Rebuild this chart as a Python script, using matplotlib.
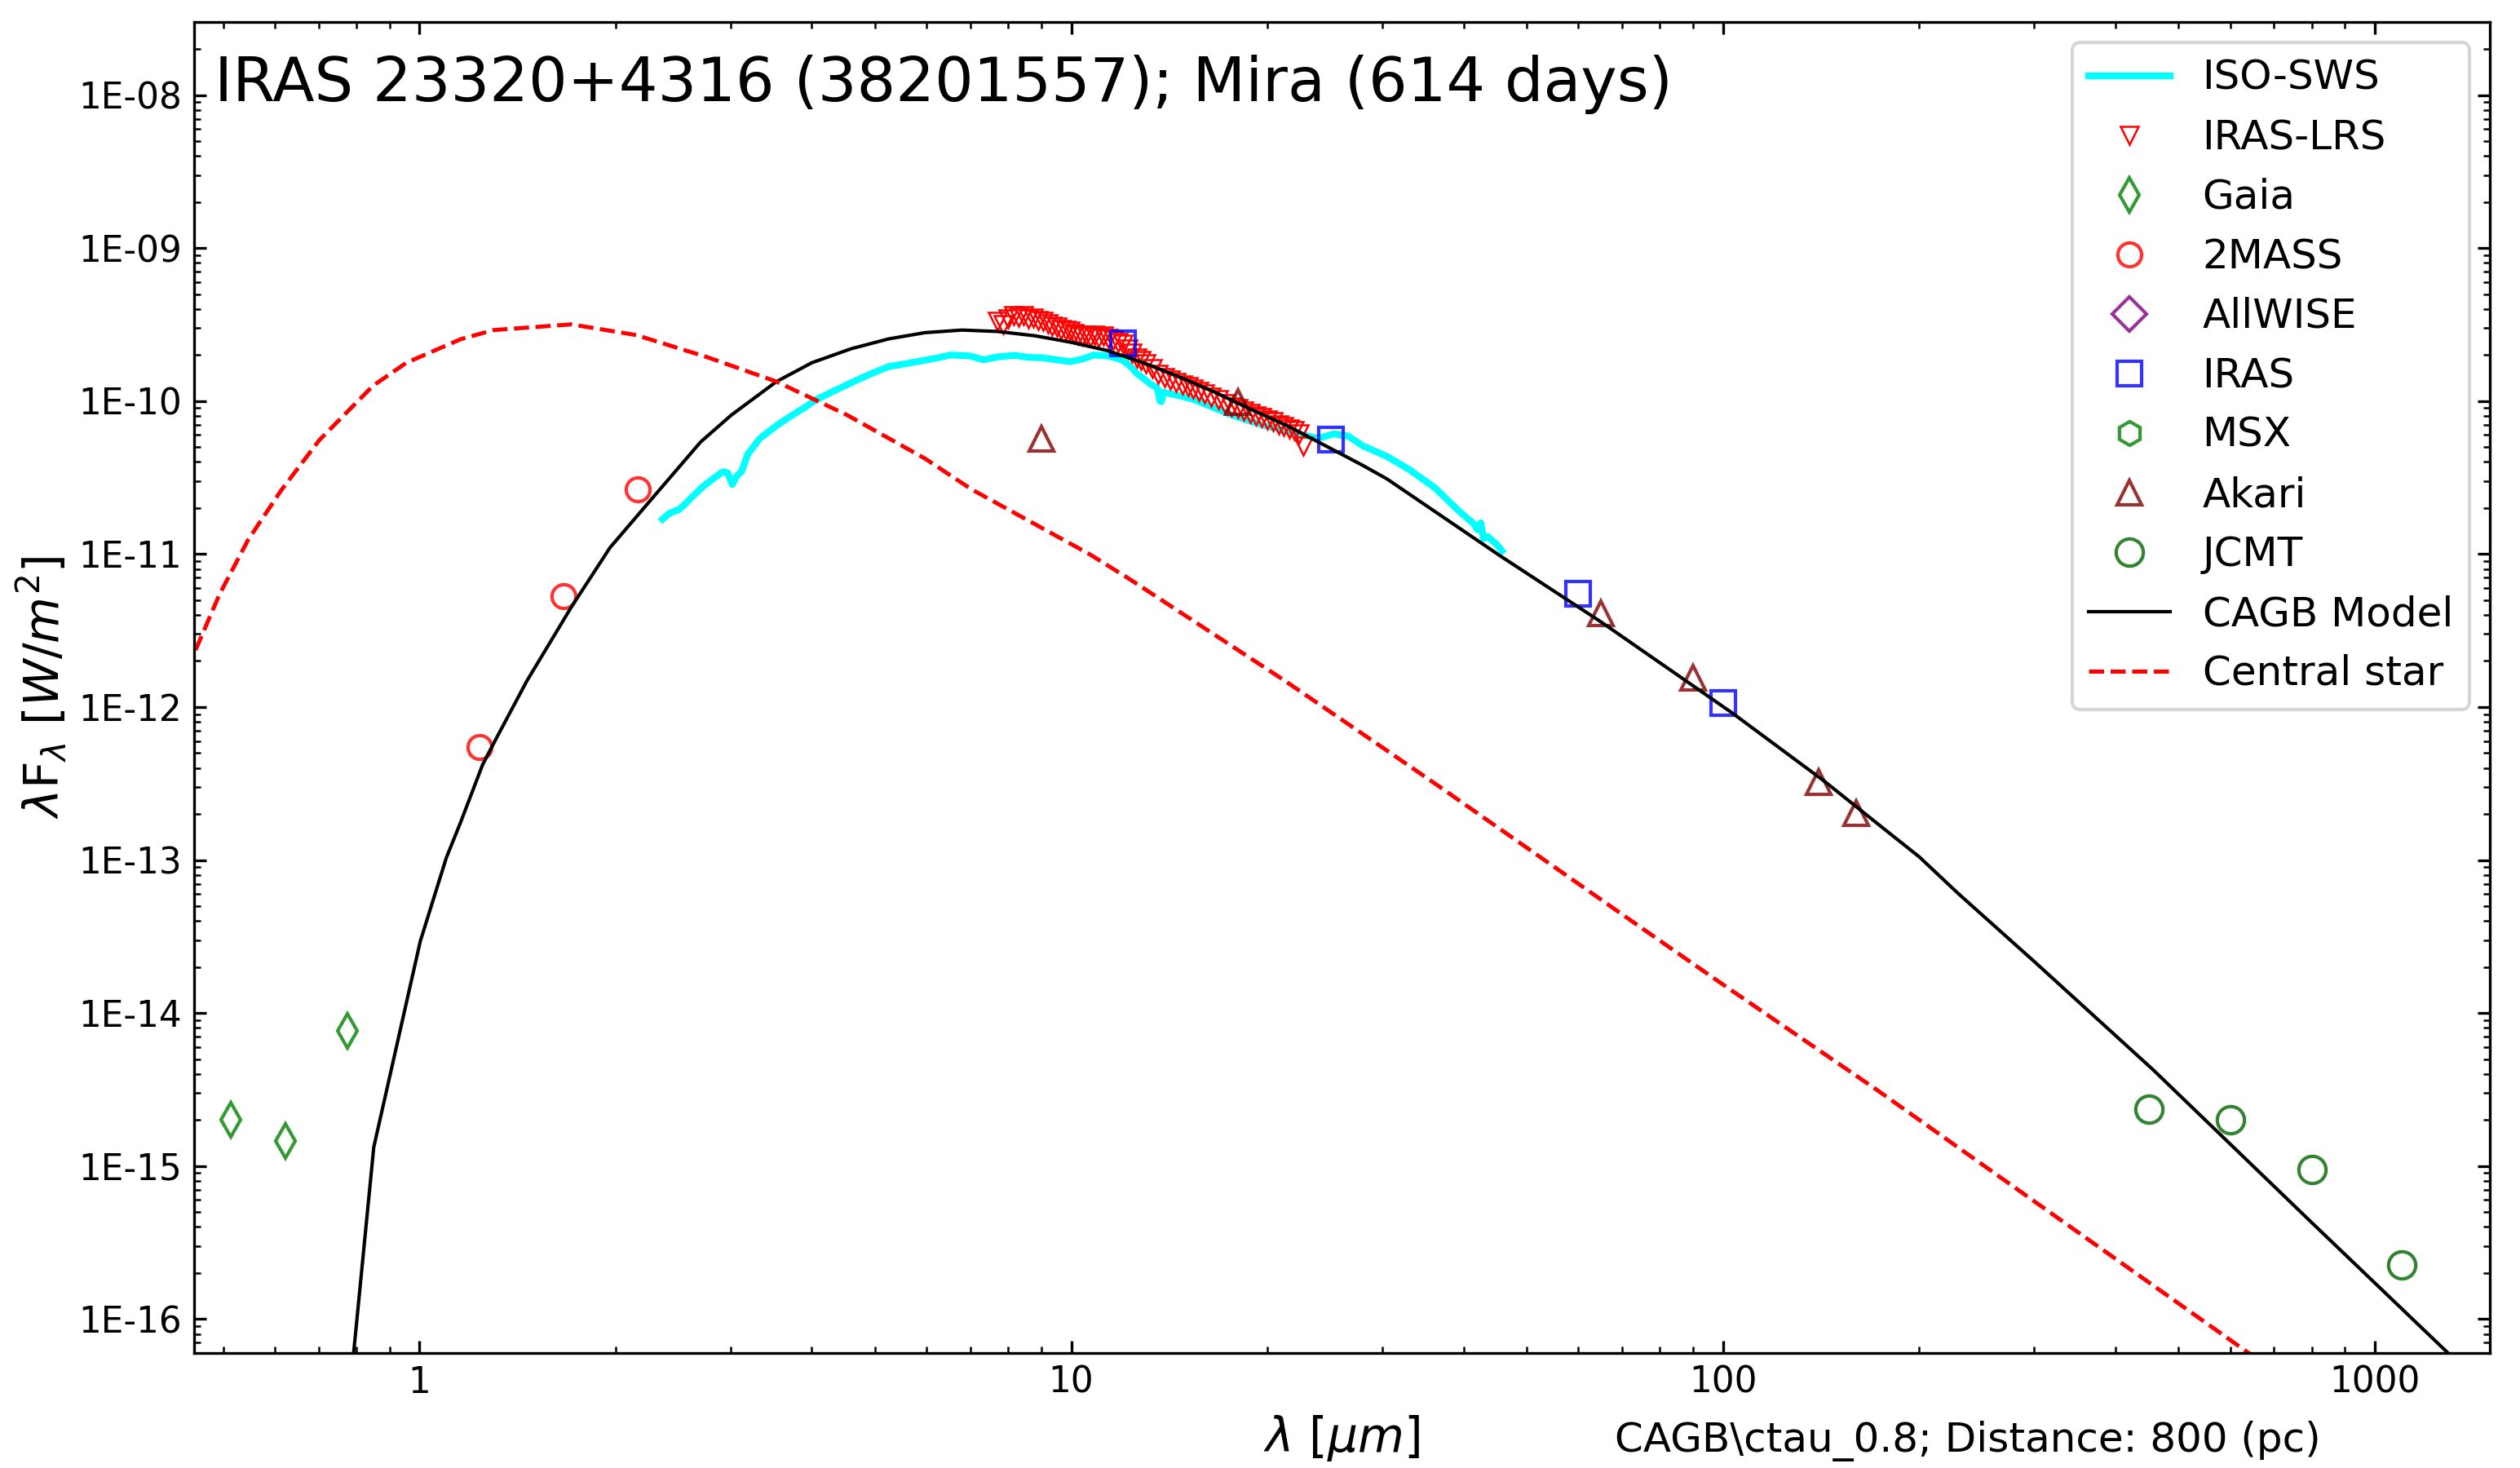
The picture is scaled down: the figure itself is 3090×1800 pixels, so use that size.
import matplotlib
matplotlib.use("Agg")
import matplotlib.pyplot as plt
from matplotlib.ticker import LogLocator, FuncFormatter, NullFormatter
import numpy as np

# ISO-SWS spectrum
iso_wave = [2.36, 2.42, 2.50, 2.55, 2.63, 2.72, 2.82, 2.92, 2.97, 3.02, 3.07, 3.12,
            3.19, 3.33, 3.53, 3.70, 3.92, 4.06, 4.30, 4.62, 4.95, 5.25, 5.6, 5.97,
            6.25, 6.53, 7.0, 7.33, 7.7, 8.17, 8.6, 9.0, 9.5, 9.97, 10.4, 10.84,
            11.4, 11.96, 12.3, 12.6, 13.27, 13.55, 13.68, 13.75, 13.85, 14.0, 14.7,
            15.45, 16.6, 17.8, 19.6, 21.6, 23.9, 25.3, 26.6, 28.0, 30.5, 33.0,
            36.1, 39.4, 41.5, 42.0, 42.5, 42.9, 43.6, 44.3, 45.0, 45.8]
iso_flux = [1.69e-11, 1.85e-11, 1.95e-11, 2.1e-11, 2.4e-11, 2.75e-11, 3.1e-11, 3.45e-11,
            3.4e-11, 2.85e-11, 3.25e-11, 3.45e-11, 4.5e-11, 5.7e-11, 6.9e-11, 7.9e-11,
            9.2e-11, 1.02e-10, 1.15e-10, 1.33e-10, 1.52e-10, 1.68e-10, 1.76e-10, 1.85e-10,
            1.92e-10, 2.0e-10, 1.97e-10, 1.86e-10, 1.94e-10, 1.99e-10, 1.93e-10, 1.92e-10,
            1.86e-10, 1.81e-10, 1.88e-10, 2.0e-10, 1.97e-10, 1.86e-10, 1.7e-10, 1.52e-10,
            1.28e-10, 1.22e-10, 1.0e-10, 9.9e-11, 1.14e-10, 1.13e-10, 1.08e-10, 1.02e-10,
            9.0e-11, 8.0e-11, 7.0e-11, 6.3e-11, 5.7e-11, 6.1e-11, 5.9e-11, 5.1e-11,
            4.35e-11, 3.57e-11, 2.72e-11, 1.9e-11, 1.57e-11, 1.44e-11, 1.6e-11, 1.26e-11,
            1.3e-11, 1.22e-11, 1.15e-11, 1.05e-11]

# IRAS-LRS spectrum
lrs_wave = [7.7, 7.85, 8.0, 8.15, 8.3, 8.45, 8.6, 8.75, 8.9, 9.05, 9.2, 9.35, 9.5, 9.65,
            9.8, 9.95, 10.1, 10.25, 10.4, 10.55, 10.7, 10.85, 11.0, 11.2, 11.4, 11.6,
            11.8, 12.0, 12.2, 12.4, 12.6, 12.8, 13.0, 13.3, 13.6, 13.9, 14.2, 14.5,
            14.8, 15.1, 15.4, 15.7, 16.0, 16.4, 16.8, 17.2, 17.6, 18.0, 18.4, 18.8,
            19.2, 19.6, 20.0, 20.4, 20.8, 21.2, 21.6, 22.0, 22.4, 22.7]
lrs_flux = [3.3e-10, 3.15e-10, 3.45e-10, 3.6e-10, 3.55e-10, 3.62e-10, 3.45e-10, 3.5e-10,
            3.35e-10, 3.3e-10, 3.2e-10, 3.1e-10, 3.05e-10, 2.95e-10, 2.9e-10, 2.85e-10,
            2.75e-10, 2.7e-10, 2.65e-10, 2.7e-10, 2.62e-10, 2.68e-10, 2.6e-10, 2.65e-10,
            2.55e-10, 2.5e-10, 2.42e-10, 2.35e-10, 2.2e-10, 2.05e-10, 1.92e-10, 1.85e-10,
            1.75e-10, 1.62e-10, 1.5e-10, 1.42e-10, 1.38e-10, 1.32e-10, 1.28e-10, 1.24e-10,
            1.2e-10, 1.16e-10, 1.12e-10, 1.06e-10, 1.02e-10, 9.6e-11, 9.2e-11, 8.9e-11,
            8.6e-11, 8.3e-11, 8.0e-11, 7.8e-11, 7.5e-11, 7.3e-11, 7.0e-11, 6.8e-11,
            6.6e-11, 6.4e-11, 6.1e-11, 5.1e-11]

# photometry
gaia_wave = [0.513, 0.623, 0.776]
gaia_flux = [2.0e-15, 1.46e-15, 7.7e-15]
tmass_wave = [1.238, 1.665, 2.164]
tmass_flux = [5.5e-13, 5.3e-12, 2.65e-11]
wise_wave = []
wise_flux = []
iras_wave = [12.0, 25.0, 60.0, 100.0]
iras_flux = [2.39e-10, 5.6e-11, 5.5e-12, 1.06e-12]
msx_wave = []
msx_flux = []
akari_wave = [9.0, 18.0, 65.0, 90.0, 140.0, 160.0]
akari_flux = [5.7e-11, 9.8e-11, 4.1e-12, 1.56e-12, 3.25e-13, 2.02e-13]
jcmt_wave = [450.0, 600.0, 800.0, 1100.0]
jcmt_flux = [2.35e-15, 2.02e-15, 9.5e-16, 2.25e-16]

# CAGB model
model_wave = [0.78, 0.851, 1.003, 1.10, 1.155, 1.25, 1.30, 1.46, 1.71, 1.96, 2.21, 2.70,
              3.01, 3.53, 4.0, 4.6, 5.25, 5.97, 6.8, 7.7, 8.8, 10.0, 11.35, 12.9, 14.7,
              16.7, 19.0, 21.6, 28.0, 30.5, 45.4, 65.0, 103.5, 143.0, 172.0, 200.0,
              230.0, 300.0, 457.0, 800.0, 1500.0]
model_flux = [3.0e-17, 1.33e-15, 2.95e-14, 1.04e-13, 1.74e-13, 4.2e-13, 5.8e-13, 1.47e-12,
              4.5e-12, 1.1e-11, 2.0e-11, 5.4e-11, 8.1e-11, 1.34e-10, 1.78e-10, 2.2e-10,
              2.55e-10, 2.8e-10, 2.91e-10, 2.85e-10, 2.67e-10, 2.42e-10, 2.14e-10, 1.78e-10,
              1.43e-10, 1.13e-10, 8.7e-11, 6.8e-11, 3.8e-11, 3.1e-11, 9.8e-12, 3.6e-12,
              9.1e-13, 3.28e-13, 1.75e-13, 1.05e-13, 6.0e-14, 2.18e-14, 4.26e-15, 4.28e-16,
              3.3e-17]

# central star
star_wave = [0.44, 0.4935, 0.546, 0.614, 0.702, 0.849, 0.955, 1.158, 1.30, 1.71, 2.15,
             2.76, 3.53, 4.53, 5.97, 7.03, 10.66, 12.2, 21.2, 30.5, 36.8, 72.4, 97.0,
             172.0, 644.0, 1000.0]
star_flux = [1.75e-12, 5.46e-12, 1.24e-11, 2.62e-11, 5.55e-11, 1.26e-10, 1.78e-10, 2.54e-10,
             2.91e-10, 3.17e-10, 2.70e-10, 1.94e-10, 1.34e-10, 8.1e-11, 4.2e-11, 2.65e-11,
             1.0e-11, 7.0e-12, 1.5e-12, 5.2e-13, 3.0e-13, 4.0e-14, 1.68e-14, 3.16e-15,
             5.9e-17, 1.6e-17]

title = "IRAS 23320+4316 (38201557); Mira (614 days)"
note = "CAGB\\ctau_0.8; Distance: 800 (pc)"

fig = plt.figure(figsize=(10.3, 6), dpi=300)
ax = fig.add_axes([0.077, 0.0783, 0.911, 0.9067])

ax.plot(iso_wave, iso_flux, color="cyan", lw=2, label="ISO-SWS")
ax.plot(lrs_wave, lrs_flux, "v", color="red", mfc="none", ms=5.5, mew=0.6, label="IRAS-LRS")
ax.plot(gaia_wave, gaia_flux, "d", color="green", alpha=0.8, mfc="none", ms=7, label="Gaia")
ax.plot(tmass_wave, tmass_flux, "o", color="red", alpha=0.8, mfc="none", ms=7, label="2MASS")
ax.plot(wise_wave, wise_flux, "D", color="purple", alpha=0.8, mfc="none", ms=7, label="AllWISE")
ax.plot(iras_wave, iras_flux, "s", color="blue", alpha=0.8, mfc="none", ms=7, label="IRAS")
ax.plot(msx_wave, msx_flux, "h", color="green", alpha=0.8, mfc="none", ms=7, label="MSX")
ax.plot(akari_wave, akari_flux, "^", color="maroon", alpha=0.8, mfc="none", ms=7, label="Akari")
ax.plot(jcmt_wave, jcmt_flux, "o", color="darkgreen", alpha=0.8, mfc="none", ms=8, label="JCMT")
ax.plot(model_wave, model_flux, "-", color="black", lw=1.0, label="CAGB Model")
ax.plot(star_wave, star_flux, "--", color="red", lw=1.2, label="Central star")

ax.set_xscale("log")
ax.set_yscale("log")
ax.set_xlim(0.451, 1501)
ax.set_ylim(6.0e-17, 3.0e-8)

ax.yaxis.set_major_locator(LogLocator(base=10, numticks=20))
ax.yaxis.set_minor_locator(LogLocator(base=10, subs=np.arange(2, 10), numticks=20))
ax.yaxis.set_major_formatter(FuncFormatter(lambda v, p: "%.0E" % v))
ax.yaxis.set_minor_formatter(NullFormatter())
ax.xaxis.set_major_formatter(FuncFormatter(lambda v, p: "%g" % v))
ax.xaxis.set_minor_formatter(NullFormatter())
ax.tick_params(which="both", direction="in", top=True, right=True, labelsize=10.5)

ax.set_xlabel(r"$\lambda$ [$\mu m$]", fontsize=14)
ax.set_ylabel(r"$\lambda$F$_{\lambda}$ [$W/m^2$]", fontsize=14, labelpad=3)

ax.text(0.009, 0.9406, title, transform=ax.transAxes, fontsize=18, va="baseline")
ax.text(0.619, -0.0741, note, transform=ax.transAxes, fontsize=12, va="baseline")

ax.legend(loc="upper right", fontsize=12)

plt.savefig("out.png", dpi=300)
